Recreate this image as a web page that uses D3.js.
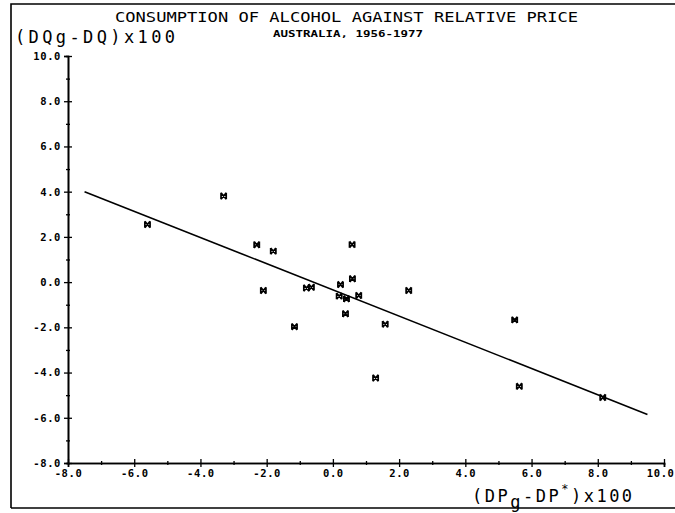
<!DOCTYPE html>
<html>
<head>
<meta charset="utf-8">
<script src="https://cdn.jsdelivr.net/npm/d3@7"></script>
<style>
  body { margin: 0; background: #fff; }
  svg { display: block; }
</style>
</head>
<body>
<div id="chart"></div>
<script>
// annual changes, Australia 1956-1977
const priceChange = [-5.6, -3.3, -2.3, -1.8, -2.1, -0.8, -0.65, -1.16, 0.58, 0.59, 0.23,
  0.19, 0.41, 0.78, 0.38, 1.58, 2.29, 1.29, 5.49, 5.63, 8.15];
const qtyChange = [2.55, 3.81, 1.65, 1.37, -0.37, -0.26, -0.23, -1.97, 1.66, 0.15, -0.11,
  -0.62, -0.74, -0.59, -1.40, -1.86, -0.37, -4.24, -1.67, -4.61, -5.10];

// fitted line end points
const fitX = [-7.5, 9.5];
const fitY = [4.0, -5.85];

const majorTicks = [-8, -6, -4, -2, 0, 2, 4, 6, 8, 10];
const minorTicks = [-7, -5, -3, -1, 1, 3, 5, 7, 9];

const width = 675;
const height = 513;

const svg = d3.select('#chart')
  .append('svg')
  .attr('width', width)
  .attr('height', height);

const x = d3.scaleLinear().domain([-8, 10]).range([68, 664]);
const y = d3.scaleLinear().domain([-8, 10]).range([463, 56]);

const fmt = d => d.toFixed(1);
const tickFont = "'DejaVu Sans Mono', monospace";

// frame of the scanned page
const frame = svg.append('g').attr('stroke', '#000').attr('stroke-width', 1.6).attr('fill', 'none');
frame.append('path').attr('d', 'M11,508 V4 H675');
frame.append('path').attr('d', 'M11,508 H675');

// y axis
const yAxis = svg.append('g')
  .attr('transform', `translate(${x(-8)},0)`)
  .call(d3.axisLeft(y).tickValues(majorTicks).tickFormat(fmt).tickSize(4).tickPadding(3));
yAxis.selectAll('.tick line').attr('x2', -4).attr('x1', 4);
yAxis.append('g')
  .call(d3.axisLeft(y).tickValues(minorTicks).tickFormat('').tickSize(2))
  .selectAll('.tick line').attr('x1', 2);

// x axis
const xAxis = svg.append('g')
  .attr('transform', `translate(0,${y(-8)})`)
  .call(d3.axisBottom(x).tickValues(majorTicks).tickFormat(fmt).tickSize(4).tickPadding(3));
xAxis.selectAll('.tick line').attr('y1', -4);
xAxis.append('g')
  .call(d3.axisBottom(x).tickValues(minorTicks).tickFormat('').tickSize(2))
  .selectAll('.tick line').attr('y1', -2);

svg.selectAll('.domain').attr('stroke-width', 1.6);
svg.selectAll('.tick line').attr('stroke-width', 1.3);
svg.selectAll('.tick text')
  .attr('font-family', tickFont)
  .attr('font-weight', 'bold')
  .attr('font-size', 10.5)
  .attr('letter-spacing', 0.6)
  .attr('fill', '#000');

// last x label sits against the page edge
xAxis.selectAll('.tick text')
  .filter(d => d === 10)
  .attr('text-anchor', 'end')
  .attr('x', 10);

// regression line
svg.append('path')
  .datum(d3.zip(fitX, fitY))
  .attr('fill', 'none')
  .attr('stroke', '#000')
  .attr('stroke-width', 1.6)
  .attr('d', d3.line().x(d => x(d[0])).y(d => y(d[1])));

// observations
const marker = 'M-2.6,-3.2 L2.6,3.2 M2.6,-3.2 L-2.6,3.2 M-2.6,-3.2 V3.2 M2.6,-3.2 V3.2';
svg.append('g')
  .selectAll('path')
  .data(d3.zip(priceChange, qtyChange))
  .join('path')
    .attr('transform', d => `translate(${x(d[0])},${y(d[1])})`)
    .attr('d', marker)
    .attr('fill', 'none')
    .attr('stroke', '#000')
    .attr('stroke-width', 1.7);

// titles
const font = "'DejaVu Sans Mono', monospace";
svg.append('text')
  .attr('x', 115).attr('y', 22)
  .attr('font-family', font).attr('font-size', 14)
  .attr('textLength', 463).attr('lengthAdjust', 'spacingAndGlyphs')
  .text('CONSUMPTION OF ALCOHOL AGAINST RELATIVE PRICE');

svg.append('text')
  .attr('x', 273).attr('y', 37)
  .attr('font-family', font).attr('font-size', 9).attr('font-weight', 'bold')
  .attr('textLength', 150).attr('lengthAdjust', 'spacingAndGlyphs')
  .text('AUSTRALIA, 1956-1977');

svg.append('text')
  .attr('x', 15).attr('y', 43)
  .attr('font-family', font).attr('font-size', 17)
  .attr('textLength', 160).attr('lengthAdjust', 'spacing')
  .text('(DQg-DQ)x100');

const xl = svg.append('text')
  .attr('x', 472).attr('y', 502)
  .attr('font-family', font).attr('font-size', 17)
  .attr('letter-spacing', 2.5);
xl.append('tspan').text('(DP');
xl.append('tspan').attr('dy', 6).text('g');
xl.append('tspan').attr('dy', -6).text('-DP');
xl.append('tspan').attr('dy', -9).attr('font-size', 12).text('*');
xl.append('tspan').attr('dy', 9).text(')x100');
</script>
</body>
</html>
